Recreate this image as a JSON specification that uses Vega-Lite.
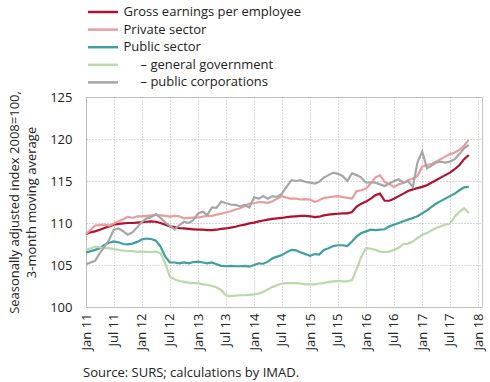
{
  "$schema": "https://vega.github.io/schema/vega-lite/v6.json",
  "width": 396,
  "height": 210,
  "autosize": {"type": "none"},
  "padding": {"left": 86, "top": 97, "right": 8, "bottom": 75},
  "background": "white",
  "config": {
    "font": "Open Sans",
    "view": {"stroke": "#c4c4c4", "strokeWidth": 1}
  },
  "title": {
    "text": "Source: SURS; calculations by IMAD.",
    "orient": "bottom",
    "anchor": "start",
    "frame": "group",
    "fontSize": 13,
    "fontWeight": "normal",
    "color": "#222222",
    "offset": 17,
    "dx": -3
  },
  "data": {
    "values": [
      {"d": "2011-01", "g": 108.7, "p": 108.7, "s": 106.5, "gg": 106.8, "pc": 105.1},
      {"d": "2011-02", "g": 108.9, "p": 109.2, "s": 106.65, "gg": 107.0, "pc": 105.3},
      {"d": "2011-03", "g": 109.0, "p": 109.7, "s": 106.8, "gg": 107.2, "pc": 105.5},
      {"d": "2011-04", "g": 109.2, "p": 109.75, "s": 107.0, "gg": 107.1, "pc": 106.4},
      {"d": "2011-05", "g": 109.4, "p": 109.8, "s": 107.4, "gg": 107.0, "pc": 107.2},
      {"d": "2011-06", "g": 109.6, "p": 109.7, "s": 107.65, "gg": 107.0, "pc": 108.0},
      {"d": "2011-07", "g": 109.8, "p": 109.95, "s": 107.8, "gg": 106.9, "pc": 109.2},
      {"d": "2011-08", "g": 109.9, "p": 110.2, "s": 107.7, "gg": 106.8, "pc": 109.35},
      {"d": "2011-09", "g": 109.95, "p": 110.45, "s": 107.5, "gg": 106.7, "pc": 109.0},
      {"d": "2011-10", "g": 110.0, "p": 110.75, "s": 107.45, "gg": 106.65, "pc": 108.6},
      {"d": "2011-11", "g": 110.0, "p": 110.6, "s": 107.55, "gg": 106.65, "pc": 108.9},
      {"d": "2011-12", "g": 110.05, "p": 110.8, "s": 107.75, "gg": 106.6, "pc": 109.5},
      {"d": "2012-01", "g": 110.1, "p": 110.8, "s": 108.05, "gg": 106.6, "pc": 110.15},
      {"d": "2012-02", "g": 110.15, "p": 110.85, "s": 108.15, "gg": 106.55, "pc": 110.55},
      {"d": "2012-03", "g": 110.2, "p": 110.9, "s": 108.1, "gg": 106.55, "pc": 110.7},
      {"d": "2012-04", "g": 110.15, "p": 110.95, "s": 107.9, "gg": 106.6, "pc": 111.05},
      {"d": "2012-05", "g": 110.0, "p": 110.9, "s": 107.2, "gg": 106.4, "pc": 110.6},
      {"d": "2012-06", "g": 109.8, "p": 110.85, "s": 106.0, "gg": 105.2, "pc": 110.05},
      {"d": "2012-07", "g": 109.6, "p": 110.75, "s": 105.3, "gg": 103.6, "pc": 109.65},
      {"d": "2012-08", "g": 109.5, "p": 110.85, "s": 105.3, "gg": 103.3, "pc": 109.25},
      {"d": "2012-09", "g": 109.4, "p": 110.8, "s": 105.2, "gg": 103.1, "pc": 109.75},
      {"d": "2012-10", "g": 109.35, "p": 110.55, "s": 105.3, "gg": 103.0, "pc": 110.15},
      {"d": "2012-11", "g": 109.3, "p": 110.6, "s": 105.2, "gg": 102.9, "pc": 110.0},
      {"d": "2012-12", "g": 109.25, "p": 110.65, "s": 105.35, "gg": 102.85, "pc": 110.35},
      {"d": "2013-01", "g": 109.2, "p": 110.65, "s": 105.4, "gg": 102.85, "pc": 111.15},
      {"d": "2013-02", "g": 109.2, "p": 110.75, "s": 105.3, "gg": 102.7, "pc": 111.35},
      {"d": "2013-03", "g": 109.15, "p": 110.85, "s": 105.2, "gg": 102.65, "pc": 110.95},
      {"d": "2013-04", "g": 109.15, "p": 110.85, "s": 105.3, "gg": 102.5, "pc": 111.85},
      {"d": "2013-05", "g": 109.2, "p": 111.0, "s": 105.1, "gg": 102.35, "pc": 111.8},
      {"d": "2013-06", "g": 109.3, "p": 111.1, "s": 104.9, "gg": 102.0, "pc": 112.55},
      {"d": "2013-07", "g": 109.35, "p": 111.25, "s": 104.85, "gg": 101.4, "pc": 112.35},
      {"d": "2013-08", "g": 109.45, "p": 111.4, "s": 104.9, "gg": 101.3, "pc": 112.2},
      {"d": "2013-09", "g": 109.55, "p": 111.6, "s": 104.85, "gg": 101.35, "pc": 112.15},
      {"d": "2013-10", "g": 109.7, "p": 111.75, "s": 104.85, "gg": 101.4, "pc": 112.0},
      {"d": "2013-11", "g": 109.8, "p": 112.0, "s": 104.9, "gg": 101.4, "pc": 112.15},
      {"d": "2013-12", "g": 109.95, "p": 112.3, "s": 104.8, "gg": 101.45, "pc": 111.85},
      {"d": "2014-01", "g": 110.05, "p": 112.35, "s": 105.0, "gg": 101.5, "pc": 113.05},
      {"d": "2014-02", "g": 110.2, "p": 112.5, "s": 105.2, "gg": 101.6, "pc": 112.9},
      {"d": "2014-03", "g": 110.3, "p": 112.45, "s": 105.15, "gg": 101.8, "pc": 113.2},
      {"d": "2014-04", "g": 110.4, "p": 112.4, "s": 105.4, "gg": 102.1, "pc": 112.9},
      {"d": "2014-05", "g": 110.5, "p": 112.6, "s": 105.8, "gg": 102.4, "pc": 113.2},
      {"d": "2014-06", "g": 110.55, "p": 112.9, "s": 106.0, "gg": 102.6, "pc": 113.1},
      {"d": "2014-07", "g": 110.6, "p": 113.2, "s": 106.2, "gg": 102.8, "pc": 113.5},
      {"d": "2014-08", "g": 110.7, "p": 113.0, "s": 106.5, "gg": 102.85, "pc": 114.3},
      {"d": "2014-09", "g": 110.75, "p": 112.9, "s": 106.8, "gg": 102.85, "pc": 115.1},
      {"d": "2014-10", "g": 110.8, "p": 112.9, "s": 106.75, "gg": 102.85, "pc": 115.0},
      {"d": "2014-11", "g": 110.85, "p": 112.8, "s": 106.5, "gg": 102.8, "pc": 115.1},
      {"d": "2014-12", "g": 110.85, "p": 112.85, "s": 106.3, "gg": 102.7, "pc": 114.9},
      {"d": "2015-01", "g": 110.8, "p": 112.8, "s": 106.1, "gg": 102.7, "pc": 114.8},
      {"d": "2015-02", "g": 110.7, "p": 112.5, "s": 106.3, "gg": 102.7, "pc": 114.7},
      {"d": "2015-03", "g": 110.75, "p": 112.7, "s": 106.25, "gg": 102.8, "pc": 114.9},
      {"d": "2015-04", "g": 110.9, "p": 113.0, "s": 106.8, "gg": 102.85, "pc": 115.4},
      {"d": "2015-05", "g": 111.0, "p": 113.05, "s": 107.0, "gg": 103.0, "pc": 115.7},
      {"d": "2015-06", "g": 111.05, "p": 113.15, "s": 107.25, "gg": 103.05, "pc": 116.0},
      {"d": "2015-07", "g": 111.1, "p": 113.2, "s": 107.35, "gg": 103.1, "pc": 115.85},
      {"d": "2015-08", "g": 111.15, "p": 113.1, "s": 107.35, "gg": 103.05, "pc": 115.6},
      {"d": "2015-09", "g": 111.15, "p": 113.0, "s": 107.25, "gg": 103.05, "pc": 115.0},
      {"d": "2015-10", "g": 111.3, "p": 112.9, "s": 107.8, "gg": 103.2, "pc": 115.9},
      {"d": "2015-11", "g": 111.95, "p": 113.8, "s": 108.4, "gg": 104.5, "pc": 115.7},
      {"d": "2015-12", "g": 112.3, "p": 113.9, "s": 108.8, "gg": 106.0, "pc": 115.4},
      {"d": "2016-01", "g": 112.55, "p": 114.1, "s": 109.0, "gg": 107.0, "pc": 114.8},
      {"d": "2016-02", "g": 112.9, "p": 114.7, "s": 109.2, "gg": 106.95, "pc": 114.85},
      {"d": "2016-03", "g": 113.3, "p": 115.4, "s": 109.15, "gg": 106.8, "pc": 114.8},
      {"d": "2016-04", "g": 113.5, "p": 115.7, "s": 109.2, "gg": 106.6, "pc": 114.6},
      {"d": "2016-05", "g": 112.65, "p": 114.9, "s": 109.25, "gg": 106.55, "pc": 114.4},
      {"d": "2016-06", "g": 112.65, "p": 114.6, "s": 109.6, "gg": 106.6, "pc": 114.7},
      {"d": "2016-07", "g": 112.9, "p": 114.3, "s": 109.8, "gg": 106.8, "pc": 115.0},
      {"d": "2016-08", "g": 113.2, "p": 114.6, "s": 110.0, "gg": 107.05, "pc": 115.2},
      {"d": "2016-09", "g": 113.5, "p": 114.8, "s": 110.2, "gg": 107.5, "pc": 114.8},
      {"d": "2016-10", "g": 113.8, "p": 115.1, "s": 110.4, "gg": 107.55, "pc": 115.0},
      {"d": "2016-11", "g": 114.0, "p": 115.3, "s": 110.6, "gg": 107.8, "pc": 114.3},
      {"d": "2016-12", "g": 114.15, "p": 115.6, "s": 110.8, "gg": 108.2, "pc": 117.2},
      {"d": "2017-01", "g": 114.3, "p": 116.7, "s": 111.15, "gg": 108.6, "pc": 118.5},
      {"d": "2017-02", "g": 114.5, "p": 116.9, "s": 111.5, "gg": 108.8, "pc": 116.5},
      {"d": "2017-03", "g": 114.8, "p": 117.0, "s": 111.9, "gg": 109.1, "pc": 116.8},
      {"d": "2017-04", "g": 115.1, "p": 117.3, "s": 112.3, "gg": 109.4, "pc": 117.2},
      {"d": "2017-05", "g": 115.4, "p": 117.6, "s": 112.6, "gg": 109.6, "pc": 117.3},
      {"d": "2017-06", "g": 115.7, "p": 117.9, "s": 112.9, "gg": 109.8, "pc": 117.2},
      {"d": "2017-07", "g": 116.0, "p": 118.2, "s": 113.2, "gg": 109.9, "pc": 117.3},
      {"d": "2017-08", "g": 116.4, "p": 118.4, "s": 113.5, "gg": 110.75, "pc": 117.6},
      {"d": "2017-09", "g": 116.9, "p": 118.7, "s": 113.9, "gg": 111.35, "pc": 118.2},
      {"d": "2017-10", "g": 117.6, "p": 119.2, "s": 114.25, "gg": 111.75, "pc": 118.9},
      {"d": "2017-11", "g": 118.1, "p": 119.9, "s": 114.3, "gg": 111.2, "pc": 119.3}
    ]
  },
  "transform": [{"fold": ["g", "p", "s", "gg", "pc"], "as": ["series", "value"]}],
  "mark": {"type": "line", "strokeWidth": 2.2},
  "encoding": {
    "x": {
      "field": "d",
      "type": "temporal",
      "scale": {
        "type": "utc",
        "nice": false,
        "domain": [
          {"year": 2011, "month": 1, "date": 1, "utc": true},
          {"year": 2018, "month": 1, "date": 26, "utc": true}
        ]
      },
      "axis": {
        "title": null,
        "format": "%b %y",
        "labelAngle": -90,
        "tickCount": {"interval": "month", "step": 6},
        "grid": true,
        "gridDash": [1, 2],
        "gridColor": "#b0b0b0",
        "domain": false,
        "ticks": false,
        "labelFontSize": 13,
        "labelColor": "#222222",
        "labelPadding": 6,
        "labelOverlap": false
      }
    },
    "y": {
      "field": "value",
      "type": "quantitative",
      "scale": {"domain": [100, 125], "nice": false, "zero": false},
      "axis": {
        "title": ["Seasonally adjusted index 2008=100,", "3-month moving average"],
        "values": [100, 105, 110, 115, 120, 125],
        "grid": true,
        "gridDash": [1, 2],
        "gridColor": "#b0b0b0",
        "domain": false,
        "ticks": false,
        "labelFontSize": 13,
        "labelColor": "#222222",
        "labelPadding": 14,
        "titleFontSize": 13,
        "titleFontWeight": "normal",
        "titleColor": "#222222",
        "titleLineHeight": 17,
        "titlePadding": 11
      }
    },
    "color": {
      "field": "series",
      "type": "nominal",
      "scale": {
        "domain": ["g", "p", "s", "gg", "pc"],
        "range": ["#b3102e", "#e89c9c", "#3f9f9f", "#b8d9a8", "#a6a6a6"]
      },
      "legend": {
        "orient": "none",
        "legendX": 10.5,
        "legendY": -91.5,
        "title": null,
        "padding": 0,
        "symbolType": "M-3,0H3",
        "symbolSize": 100,
        "symbolStrokeWidth": 2.5,
        "labelFontSize": 13,
        "labelColor": "#222222",
        "labelLimit": 300,
        "labelOffset": 14,
        "rowPadding": 3.6,
        "labelExpr": "{'g':'Gross earnings per employee','p':'Private sector','s':'Public sector','gg':'– general government','pc':'– public corporations'}[datum.label]",
        "encode": {
          "labels": {
            "update": {
              "dx": {"signal": "datum.value === 'gg' || datum.value === 'pc' ? 17 : 0"}
            }
          }
        }
      }
    }
  }
}
